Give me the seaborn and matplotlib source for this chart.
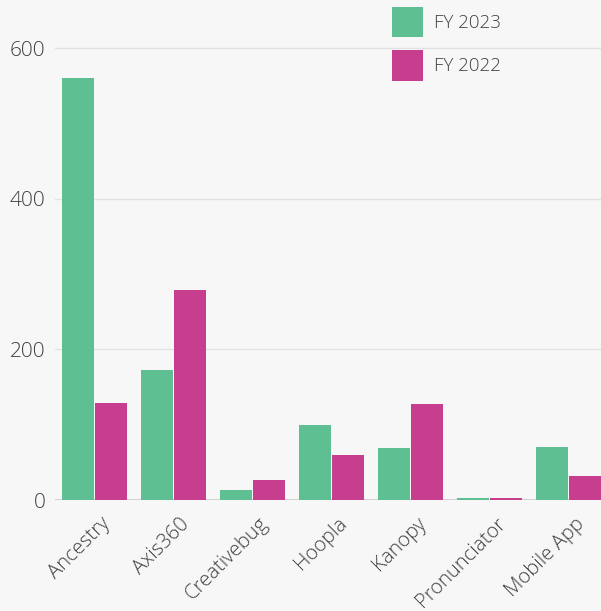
import matplotlib
matplotlib.use("Agg")
import matplotlib.pyplot as plt
import matplotlib.transforms as mtransforms
import seaborn as sns
import pandas as pd

categories = ["Ancestry", "Axis360", "Creativebug", "Hoopla", "Kanopy", "Pronunciator", "Mobile App"]
fy2023 = [560, 173, 13, 100, 69, 3, 71]
fy2022 = [129, 279, 27, 60, 128, 3, 32]
series = ["FY 2023", "FY 2022"]
yticks = [0, 200, 400, 600]

df = pd.DataFrame({
    "category": categories * 2,
    "value": fy2023 + fy2022,
    "series": [series[0]] * len(categories) + [series[1]] * len(categories),
})

sns.set_theme(style="white")
plt.rcParams["font.family"] = ["Open Sans", "DejaVu Sans"]
bg = "#f7f7f7"
txt = "#404040"
fig = plt.figure(figsize=(6.01, 6.11), dpi=100, facecolor=bg)
ax = fig.add_axes([55 / 601, 111 / 611, 1 - 55 / 601, 500 / 611])
ax.set_facecolor(bg)

palette = {"FY 2023": "#5ec092", "FY 2022": "#c73e8f"}
sns.barplot(data=df, x="category", y="value", hue="series", palette=palette,
            width=0.84, gap=0.05, linewidth=0, saturation=1, ax=ax)

ax.set_xlim(-0.5, 6.41)
ax.set_ylim(0, 500 / 0.7533)
ax.set_yticks(yticks)
ax.set_yticklabels([str(t) for t in yticks])
ax.yaxis.grid(True, color="#e3e3e3", linewidth=1)
ax.set_axisbelow(True)
for s in ax.spines.values():
    s.set_visible(False)
ax.axhline(0, color="#c8c8c8", linewidth=1.2, zorder=0.5)
ax.set_xlabel("")
ax.set_ylabel("")
ax.tick_params(axis="y", length=0, pad=7, labelsize=15, labelcolor=txt)
ax.tick_params(axis="x", length=0, pad=10, labelsize=14.6, labelcolor=txt)
for lbl in ax.get_yticklabels():
    lbl.set_fontweight("light")
offset = mtransforms.ScaledTranslation(6 / 100, 0, fig.dpi_scale_trans)
for lbl in ax.get_xticklabels():
    lbl.set_rotation(45)
    lbl.set_ha("right")
    lbl.set_va("top")
    lbl.set_rotation_mode("anchor")
    lbl.set_fontweight("light")
    lbl.set_transform(lbl.get_transform() + offset)

handles, labels = ax.get_legend_handles_labels()
ax.get_legend().remove()
leg = fig.legend(handles, labels, loc="upper left", bbox_to_anchor=(392 / 601, 1 - 7 / 611),
                 frameon=False, fontsize=13.5, labelcolor=txt,
                 handlelength=1.65, handleheight=2.1, labelspacing=0.7,
                 handletextpad=0.6, borderpad=0, borderaxespad=0)
for t in leg.get_texts():
    t.set_fontweight("light")

fig.savefig("out.png", dpi=100, facecolor=bg)
